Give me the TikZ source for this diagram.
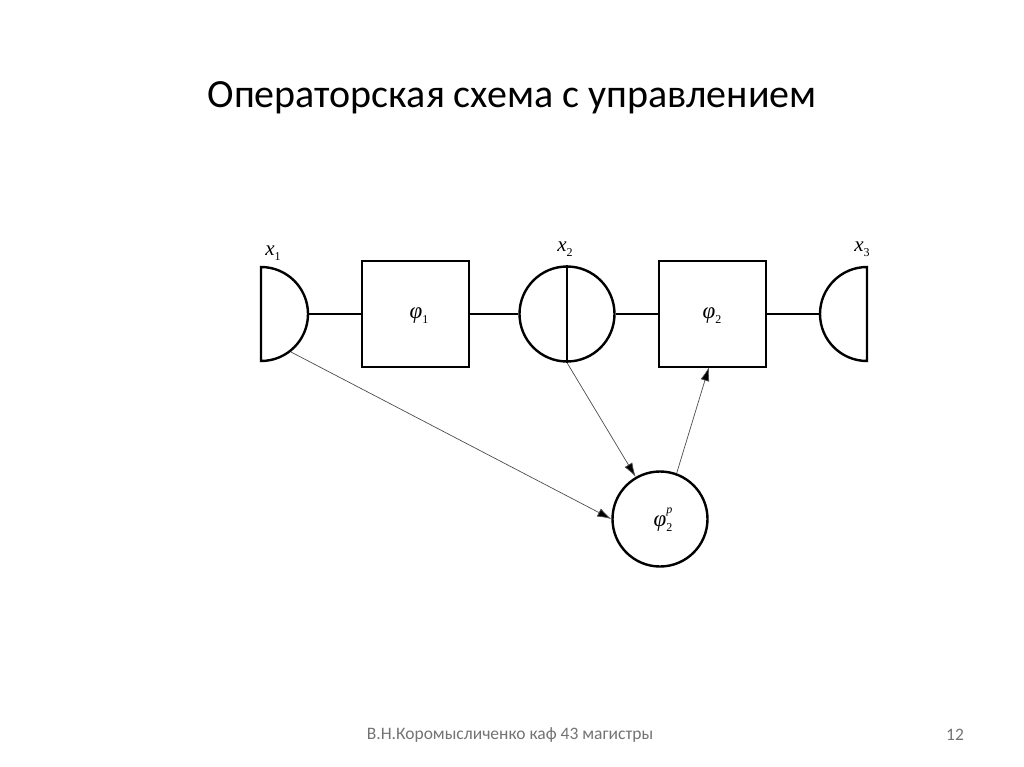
\documentclass[tikz,border=0pt]{standalone}
\usepackage{fontspec}
\setmainfont{Carlito}
\newfontfamily\tms{Liberation Serif}
\usetikzlibrary{arrows.meta}
\newcommand{\lab}[2]{{\tms\itshape #1}\raisebox{-0.45ex}{\tms\fontsize{12}{13}\selectfont #2}}
\begin{document}
\begin{tikzpicture}[x=1pt,y=-1pt,
  blk/.style={draw,line width=2.4pt,minimum width=107pt,minimum height=106pt,inner sep=0pt},
  rnd/.style={draw,circle,line width=2.4pt,minimum size=95pt,inner sep=0pt},
  wire/.style={line width=2.4pt},
  ctl/.style={draw=black!70,line width=0.7pt,-{Latex[length=14pt,width=9pt,fill=black]}},
  lbl/.style={font=\fontsize{21}{24}\selectfont,inner sep=0pt},
  glbl/.style={font=\fontsize{23}{26}\selectfont,inner sep=0pt}]
\useasboundingbox (0,0) rectangle (1024,767);
% title and footer
\node[font=\fontsize{40}{48}\selectfont] (title) at (512,98) {Операторская схема с управлением};
\node[font=\fontsize{17.5}{20}\selectfont,text=black!55] (foot) at (510,735) {В.Н.Коромысличенко каф 43 магистры};
\node[font=\fontsize{17.5}{20}\selectfont,text=black!55] (page) at (955,735) {12};
% left half disk x1
\draw[wire] (261,267) -- (261,361) arc[start angle=90,end angle=-90,radius=47] -- cycle;
\coordinate (x1r) at (308,314);
\coordinate (x1b) at (291,352);
% right half disk x3
\draw[wire] (867,267) -- (867,361) arc[start angle=90,end angle=270,radius=47] -- cycle;
\coordinate (x3l) at (820,314);
% boxes
\node[blk] (f1) at (415.5,314) {};
\node[blk] (f2) at (712.5,314) {};
% circle x2
\node[rnd] (x2) at (567,314) {};
\draw[wire] (x2.north) -- (x2.south);
% control circle
\node[rnd] (fp) at (660,519) {};
% wires
\draw[wire] (x1r) -- (f1.west);
\draw[wire] (f1.east) -- (x2.west);
\draw[wire] (x2.east) -- (f2.west);
\draw[wire] (f2.east) -- (x3l);
% control connectors
\coordinate (f2b) at (709,367);
\draw[ctl] (x1b) -- (fp.west);
\draw[ctl] (x2.south) -- (fp.120);
\draw[ctl] (fp.70) -- (f2b);
% labels
\node[lbl] (lx1) at (273,253) {\lab{x}{1}};
\node[lbl] (lx2) at (565,249) {\lab{x}{2}};
\node[lbl] (lx3) at (862,249) {\lab{x}{3}};
\node[glbl] (lf1) at (419,316) {\lab{φ}{1}};
\node[glbl] (lf2) at (712,316) {\lab{φ}{2}};
\node[glbl] (lfp) at (663,520) {{\tms\itshape φ}\rlap{\raisebox{-0.45ex}{\tms\fontsize{12}{13}\selectfont 2}}\raisebox{1.2ex}{\tms\itshape\fontsize{12}{13}\selectfont p}};
\end{tikzpicture}
\end{document}
